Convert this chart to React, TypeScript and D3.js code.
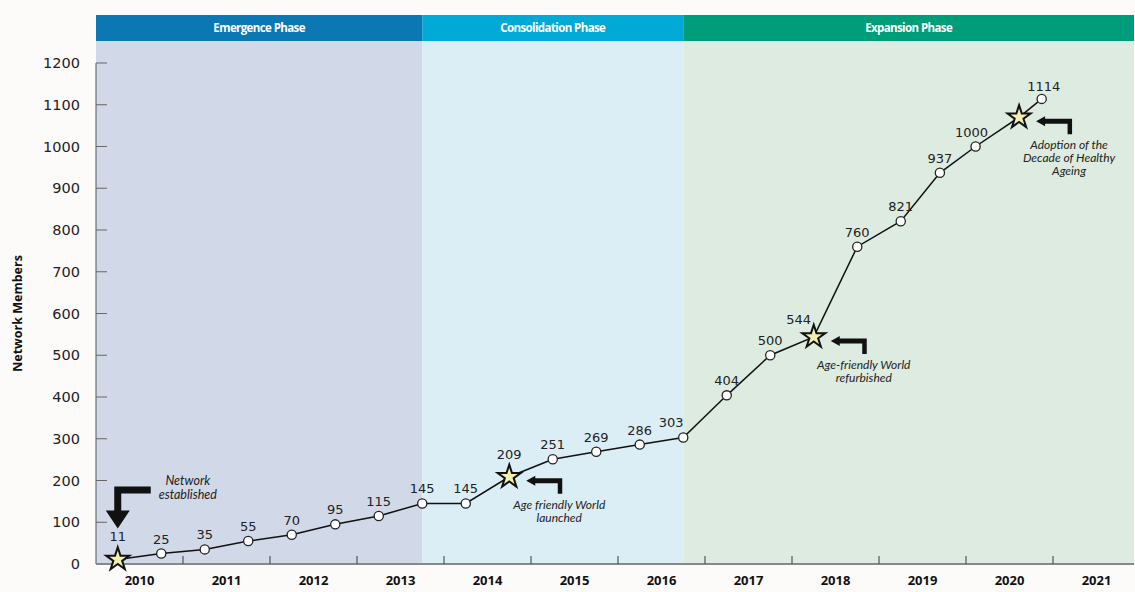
import React from "react";
import * as d3 from "d3";

// ---- data ----
const yearLabels = ["2010", "2011", "2012", "2013", "2014", "2015", "2016", "2017", "2018", "2019", "2020", "2021"];
const yTicks = [0, 100, 200, 300, 400, 500, 600, 700, 800, 900, 1000, 1100, 1200];
const pointTimes = [
  2010.25, 2010.75, 2011.25, 2011.75, 2012.25, 2012.75, 2013.25, 2013.75, 2014.25, 2014.75,
  2015.25, 2015.75, 2016.25, 2016.75, 2017.25, 2017.75, 2018.25, 2018.75, 2019.25, 2019.7,
  2020.11, 2020.61, 2020.87,
];
const members = [11, 25, 35, 55, 70, 95, 115, 145, 145, 209, 251, 269, 286, 303, 404, 500, 544, 760, 821, 937, 1000, 1070, 1114];
const starPoints = [0, 9, 16, 21];
const unlabeledPoints = [21];
const phaseNames = ["Emergence Phase", "Consolidation Phase", "Expansion Phase"];
const phaseStarts = [2010, 2013.75, 2016.75];
const phaseEnds = [2013.75, 2016.75, 2022];
const milestoneIndex = [0, 9, 16, 21];
const milestoneText = [
  ["Network", "established"],
  ["Age friendly World", "launched"],
  ["Age-friendly World", "refurbished"],
  ["Adoption of the", "Decade of Healthy", "Ageing"],
];

// ---- styles ----
const W = 1135;
const H = 592;
const PLOT_RIGHT = 1134;
const headerColors = ["#0b78b3", "#00a9d6", "#009d7b"];
const bgColors = ["#d1d8e8", "#dbeef5", "#ddebe1"];
const numFont = "'DejaVu Sans', Verdana, sans-serif";
const boldFont = "'Open Sans', sans-serif";
const italicFont = "Lato, 'Open Sans', sans-serif";

export default function App() {
  const x = d3.scaleLinear().domain([2010, 2022]).range([96, 1140]);
  const y = d3.scaleLinear().domain([0, 1200]).range([564, 63]);
  const pts = pointTimes.map((t, i) => ({ t, v: members[i], i }));
  const line = d3
    .line<{ t: number; v: number }>()
    .x((d) => x(d.t))
    .y((d) => y(d.v));
  const star = d3.symbol().type(d3.symbolStar).size(165)();

  const labelOffset = (i: number) => {
    if (i === 0) return { dx: 0, dy: -18 };
    if (i === 9) return { dx: 0, dy: -18 };
    if (i === 16) return { dx: -15, dy: -13 };
    if (i === 13) return { dx: -12, dy: -10 };
    if (i === 20) return { dx: -4, dy: -10 };
    if (i === 22) return { dx: 2, dy: -8 };
    return { dx: 0, dy: -10 };
  };

  const years = d3.range(2010, 2022);

  return (
    <svg width={W} height={H} style={{ position: "absolute", left: 0, top: 0, display: "block" }}>
      <rect x={0} y={0} width={W} height={H} fill="#fcfbf9" />
      {/* phase backgrounds and headers */}
      {phaseNames.map((name, k) => {
        const x0 = x(phaseStarts[k]);
        const x1 = Math.min(x(phaseEnds[k]), PLOT_RIGHT);
        return (
          <g key={name}>
            <rect x={x0} y={41} width={x1 - x0} height={y(0) - 41} fill={bgColors[k]} />
            <rect x={x0} y={15} width={x1 - x0} height={26} fill={headerColors[k]} />
            <text
              x={(x0 + x1) / 2}
              y={32}
              textAnchor="middle"
              fill="#ffffff"
              fontFamily={boldFont}
              fontWeight={700}
              fontSize={11.5}
              letterSpacing={-0.6}
            >
              {name}
            </text>
          </g>
        );
      })}

      {/* y axis */}
      <line x1={96} x2={96} y1={y(1200)} y2={y(0)} stroke="#555" strokeWidth={1} />
      {yTicks.map((v) => (
        <g key={v}>
          <line x1={96} x2={107} y1={y(v)} y2={y(v)} stroke="#666" strokeWidth={1} />
          <text x={80} y={y(v) + 5} textAnchor="end" fontFamily={numFont} fontSize={14.5} fill="#222">
            {v}
          </text>
        </g>
      ))}
      <text
        transform={`translate(22,${(y(0) + y(1200)) / 2}) rotate(-90)`}
        textAnchor="middle"
        fontFamily={boldFont}
        fontWeight={700}
        fontSize={12.5}
        fill="#111"
      >
        Network Members
      </text>

      {/* x axis */}
      <line x1={96} x2={PLOT_RIGHT} y1={y(0)} y2={y(0)} stroke="#888" strokeWidth={2} />
      {years.slice(1).map((yr) => (
        <line key={yr} x1={x(yr)} x2={x(yr)} y1={y(0)} y2={y(0) - 8} stroke="#555" strokeWidth={1.2} />
      ))}
      {yearLabels.map((lab, k) => (
        <text
          key={lab}
          x={x(years[k] + 0.5)}
          y={585}
          textAnchor="middle"
          fontFamily={boldFont}
          fontWeight={700}
          fontSize={13}
          fill="#111"
        >
          {lab}
        </text>
      ))}

      {/* line */}
      <path d={line(pts) || ""} fill="none" stroke="#111" strokeWidth={1.5} />

      {/* markers */}
      {pts.map((p) =>
        starPoints.includes(p.i) ? (
          <path
            key={p.i}
            d={star || ""}
            transform={`translate(${x(p.t)},${y(p.v)})`}
            fill="#f3efae"
            stroke="#111"
            strokeWidth={2}
            strokeLinejoin="miter"
          />
        ) : (
          <circle key={p.i} cx={x(p.t)} cy={y(p.v)} r={4.6} fill="#fff" stroke="#222" strokeWidth={1.3} />
        )
      )}

      {/* value labels */}
      {pts
        .filter((p) => !unlabeledPoints.includes(p.i))
        .map((p) => {
          const o = labelOffset(p.i);
          return (
            <text
              key={p.i}
              x={x(p.t) + o.dx}
              y={y(p.v) + o.dy}
              textAnchor="middle"
              fontFamily={numFont}
              fontSize={13}
              fill="#222"
            >
              {p.v}
            </text>
          );
        })}

      {/* milestone annotations */}
      {milestoneIndex.map((idx, k) => {
        const sx = x(pointTimes[idx]);
        const sy = y(members[idx]);
        if (k === 0) {
          const bx = sx;
          const top = sy - 73;
          return (
            <g key={k}>
              <path
                d={`M${bx - 3.5},${top} L${bx + 33},${top} L${bx + 33},${top + 7} L${bx + 3.5},${top + 7} L${bx + 3.5},${sy - 49} L${bx + 12},${sy - 49} L${bx},${sy - 31} L${bx - 12},${sy - 49} L${bx - 3.5},${sy - 49} Z`}
                fill="#111"
              />
              {milestoneText[k].map((t, j) => (
                <text
                  key={j}
                  x={sx + 70}
                  y={sy - 74 + j * 14}
                  textAnchor="middle"
                  fontFamily={italicFont}
                  fontStyle="italic"
                  fontSize={12.5}
                  fill="#222"
                >
                  {t}
                </text>
              ))}
            </g>
          );
        }
        const tx = sx + 17;
        const ty = sy + 4;
        return (
          <g key={k}>
            <path
              d={`M${tx},${ty} L${tx + 9},${ty - 5} L${tx + 9},${ty - 2.5} L${tx + 36},${ty - 2.5} L${tx + 36},${ty + 13} L${tx + 31.5},${ty + 13} L${tx + 31.5},${ty + 2.5} L${tx + 9},${ty + 2.5} L${tx + 9},${ty + 5} Z`}
              fill="#111"
            />
            {milestoneText[k].map((t, j) => (
              <text
                key={j}
                x={sx + 50}
                y={sy + 32 + j * 13}
                textAnchor="middle"
                fontFamily={italicFont}
                fontStyle="italic"
                fontSize={12}
                fill="#222"
              >
                {t}
              </text>
            ))}
          </g>
        );
      })}
    </svg>
  );
}
